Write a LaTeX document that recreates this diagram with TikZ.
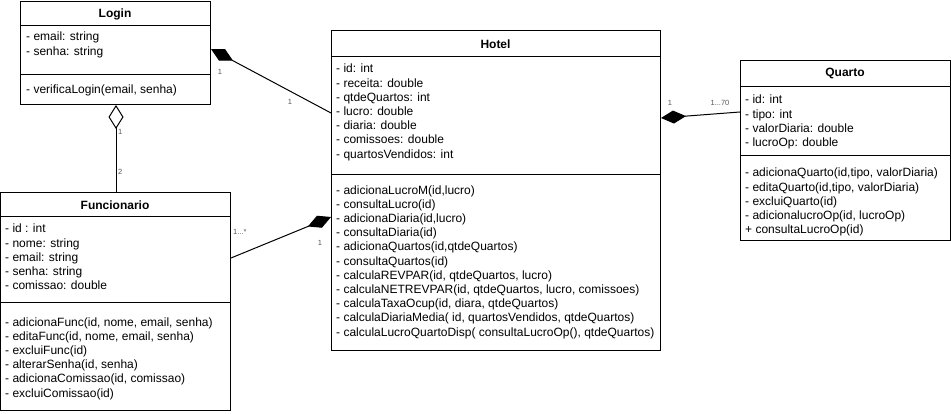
\documentclass[tikz,border=0pt]{standalone}
\usepackage{fontspec}
\setmainfont{Liberation Sans}
\usetikzlibrary{arrows.meta,calc}
\definecolor{mult}{RGB}{85,85,85}
\begin{document}
\begin{tikzpicture}[x=1pt,y=-1pt,
  classbox/.style={draw=black,line width=1pt,fill=white,rectangle,inner sep=0pt,anchor=north west},
  sepline/.style={draw=black,line width=1pt},
  title/.style={font=\fontsize{12}{14}\selectfont\bfseries,inner sep=0pt},
  % base anchor of a multi-line node sits on the baseline of its last line
  members/.style={font=\fontsize{12}{14.2}\selectfont,align=left,anchor=base west,inner sep=0pt},
  assoc/.style={draw=black,line width=1pt},
  multlabel/.style={font=\fontsize{7.5}{9}\selectfont,text=mult,inner sep=0pt},
  comp/.style={-{Diamond[length=25pt,width=13pt]}},
  aggr/.style={-{Diamond[open,length=24pt,width=15pt,fill=white]}}
]
\useasboundingbox (0,0) rectangle (951,414);

% ---------- Login ----------
\node[classbox,minimum width=190pt,minimum height=103pt] (login) at (20,1) {};
\draw[sepline] ($(login.north west)+(0,25)$) -- ($(login.north east)+(0,25)$);
\draw[sepline] ($(login.north west)+(0,74)$) -- ($(login.north east)+(0,74)$);
\node[title] (loginT) at (115,14) {Login};
\node[members] (loginA) at (26,55.2) {- email: string\\- senha: string};
\node[members] (loginM) at (26,94) {- verificaLogin(email, senha)};

% ---------- Hotel ----------
\node[classbox,minimum width=329pt,minimum height=320pt] (hotel) at (331,30) {};
\draw[sepline] ($(hotel.north west)+(0,27)$) -- ($(hotel.north east)+(0,27)$);
\draw[sepline] ($(hotel.north west)+(0,145)$) -- ($(hotel.north east)+(0,145)$);
\node[title] (hotelT) at (495.5,44) {Hotel};
\node[members] (hotelA) at (336,158.2) {- id: int\\- receita: double\\- qtdeQuartos: int\\- lucro: double\\- diaria: double\\- comissoes: double\\- quartosVendidos: int};
\node[members] (hotelM) at (336,336) {- adicionaLucroM(id,lucro)\\- consultaLucro(id)\\- adicionaDiaria(id,lucro)\\- consultaDiaria(id)\\- adicionaQuartos(id,qtdeQuartos)\\- consultaQuartos(id)\\- calculaREVPAR(id, qtdeQuartos, lucro)\\- calculaNETREVPAR(id, qtdeQuartos, lucro, comissoes)\\- calculaTaxaOcup(id, diara, qtdeQuartos)\\- calculaDiariaMedia( id, quartosVendidos, qtdeQuartos)\\- calculaLucroQuartoDisp( consultaLucroOp(), qtdeQuartos)};

% ---------- Quarto ----------
\node[classbox,minimum width=210pt,minimum height=180pt] (quarto) at (740,60) {};
\draw[sepline] ($(quarto.north west)+(0,27)$) -- ($(quarto.north east)+(0,27)$);
\draw[sepline] ($(quarto.north west)+(0,96)$) -- ($(quarto.north east)+(0,96)$);
\node[title] (quartoT) at (845,73) {Quarto};
\node[members] (quartoA) at (745,146.6) {- id: int\\- tipo: int\\- valorDiaria: double\\- lucroOp: double};
\node[members] (quartoM) at (745,233.8) {- adicionaQuarto(id,tipo, valorDiaria)\\- editaQuarto(id,tipo, valorDiaria)\\- excluiQuarto(id)\\- adicionalucroOp(id, lucroOp)\\+ consultaLucroOp(id)};

% ---------- Funcionario ----------
\node[classbox,minimum width=230pt,minimum height=218pt] (func) at (0,192) {};
\draw[sepline] ($(func.north west)+(0,25)$) -- ($(func.north east)+(0,25)$);
\draw[sepline] ($(func.north west)+(0,111)$) -- ($(func.north east)+(0,111)$);
\node[title] (funcT) at (115,205) {Funcionario};
\node[members] (funcA) at (5,289.8) {- id : int\\- nome: string\\- email: string\\- senha: string\\- comissao: double};
\node[members] (funcM) at (5,397) {- adicionaFunc(id, nome, email, senha)\\- editaFunc(id, nome, email, senha)\\- excluiFunc(id)\\- alterarSenha(id, senha)\\- adicionaComissao(id, comissao)\\- excluiComissao(id)};

% ---------- connector end points ----------
\coordinate (lhLogin) at ($(login.north east)+(0,48)$);
\coordinate (lhHotel) at ($(hotel.north west)+(0,83)$);
\coordinate (lfLogin) at ($(login.south west)+(96,0)$);
\coordinate (lfFunc)  at ($(func.north west)+(116,0)$);
\coordinate (fhFunc)  at ($(func.north east)+(0,66)$);
\coordinate (fhHotel) at ($(hotel.north west)+(0,187)$);
\coordinate (hqHotel) at ($(hotel.north east)+(0,88)$);
\coordinate (hqQuarto) at ($(quarto.north west)+(0,52)$);

% ---------- associations ----------
\draw[assoc,comp] (lhHotel) -- (lhLogin);
\draw[assoc,aggr] (lfFunc) -- (lfLogin);
\draw[assoc,comp] (fhFunc) -- (fhHotel);
\draw[assoc,comp] (hqQuarto) -- (hqHotel);

% ---------- multiplicities ----------
\node[multlabel] (m1) at (220,72) {1};
\node[multlabel] (m2) at (290,102) {1};
\node[multlabel,anchor=west] (m3) at (118,132) {1};
\node[multlabel,anchor=west] (m4) at (118,172) {2};
\node[multlabel,anchor=west] (m5) at (233,232) {1...*};
\node[multlabel] (m6) at (320,243) {1};
\node[multlabel] (m7) at (670,103) {1};
\node[multlabel] (m8) at (720,103) {1...70};
\end{tikzpicture}
\end{document}
